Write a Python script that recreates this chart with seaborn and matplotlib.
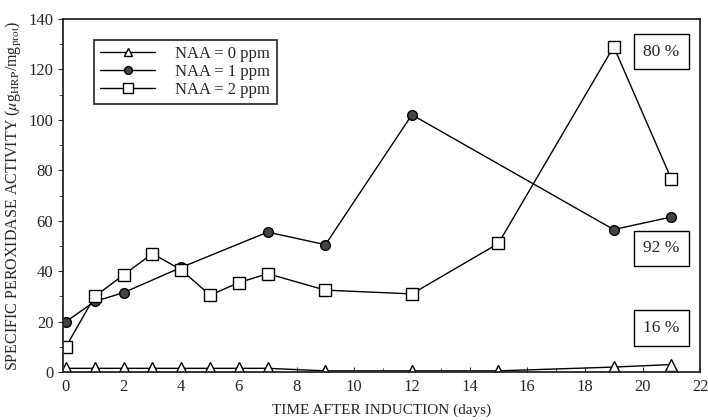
import matplotlib
matplotlib.use("Agg")
import matplotlib.pyplot as plt
import pandas as pd
import seaborn as sns
from matplotlib.ticker import MultipleLocator

# dane
days_0 = [0, 1, 2, 3, 4, 5, 6, 7, 9, 12, 15, 19, 21]
naa_0 = [1.5, 1.5, 1.5, 1.5, 1.5, 1.5, 1.5, 1.5, 0.5, 0.5, 0.5, 2, 3]

days_1 = [0, 1, 2, 4, 7, 9, 12, 19, 21]
naa_1 = [20, 28, 31.5, 41.5, 55.5, 50.5, 102, 56.5, 61.5]

days_2 = [0, 1, 2, 3, 4, 5, 6, 7, 9, 12, 15, 19, 21]
naa_2 = [10, 30, 38.5, 47, 40.5, 30.5, 35.5, 39, 32.5, 31, 51, 129, 76.5]

labels = ["NAA = 0 ppm", "NAA = 1 ppm", "NAA = 2 ppm"]
percent_labels = ["80 %", "92 %", "16 %"]
percent_y = [127, 49, 17.5]

sns.set_style("ticks")
plt.rcParams['font.family'] = ['Liberation Serif', 'DejaVu Serif']
plt.rcParams['mathtext.fontset'] = 'stix'

fig = plt.figure(figsize=(7.08, 4.2), dpi=100)
ax = fig.add_axes([0.089, 0.114, 0.9, 0.841])

df0 = pd.DataFrame({"x": days_0, "y": naa_0})
df1 = pd.DataFrame({"x": days_1, "y": naa_1})
df2 = pd.DataFrame({"x": days_2, "y": naa_2})

sns.lineplot(data=df0, x="x", y="y", ax=ax, color="black", lw=1, marker="^",
             markersize=8, markerfacecolor="white", markeredgecolor="black",
             markeredgewidth=1, label=labels[0])
sns.lineplot(data=df1, x="x", y="y", ax=ax, color="black", lw=1, marker="o",
             markersize=7, markerfacecolor="#444444", markeredgecolor="black",
             markeredgewidth=1, label=labels[1])
sns.lineplot(data=df2, x="x", y="y", ax=ax, color="black", lw=1, marker="s",
             markersize=9, markerfacecolor="white", markeredgecolor="black",
             markeredgewidth=1, label=labels[2])

ax.set_xlim(-0.1, 22)
ax.set_ylim(0, 140)
ax.xaxis.set_major_locator(MultipleLocator(2))
ax.xaxis.set_minor_locator(MultipleLocator(1))
ax.yaxis.set_major_locator(MultipleLocator(20))
ax.yaxis.set_minor_locator(MultipleLocator(10))
ax.tick_params(axis="x", which="both", direction="in", labelsize=12, pad=5)
ax.tick_params(axis="y", which="both", direction="out", labelsize=12)
ax.tick_params(which="minor", length=3)
for s in ax.spines.values():
    s.set_visible(True)
    s.set_linewidth(1.3)

ax.set_xlabel("TIME AFTER INDUCTION (days)", fontsize=11, labelpad=6)
ax.set_ylabel(r"SPECIFIC PEROXIDASE ACTIVITY ($\mu$g$_{\rm HRP}$/mg$_{\rm prot}$)",
              fontsize=11.5, labelpad=3)

for txt, yy in zip(percent_labels, percent_y):
    ax.text(20.65, yy, txt, fontsize=12.5, ha="center", va="center",
            bbox=dict(boxstyle="square,pad=0.55", fc="white", ec="black", lw=1))

leg = ax.legend(loc="upper left", bbox_to_anchor=(0.035, 0.965), fontsize=12,
                handlelength=3.3, handletextpad=1.2, frameon=True, fancybox=False,
                edgecolor="black", borderpad=0.4, labelspacing=0.1,
                markerscale=0.8)
leg.get_frame().set_linewidth(1.3)

plt.savefig("out.png", dpi=100)
